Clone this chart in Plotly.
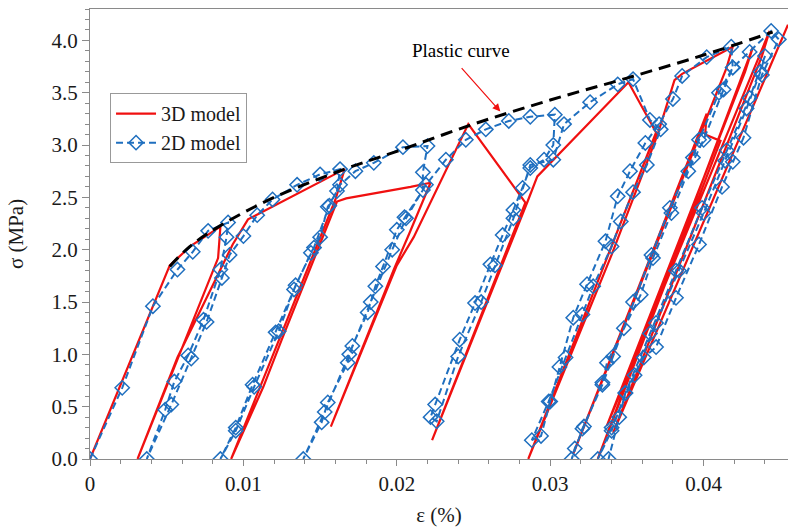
import plotly.graph_objects as go

# ---- Data ----
plastic_x = [0.0052, 0.0065, 0.0085, 0.0120, 0.0166, 0.0200, 0.0250, 0.0300, 0.0350, 0.0400, 0.0445]
plastic_y = [1.84, 2.03, 2.23, 2.50, 2.77, 2.94, 3.20, 3.43, 3.64, 3.86, 4.08]

model3d_x = [0, 0.0052, 0.0066, 0.0085, 0.00835, 0.0057, 0.0031,
             0.0057, 0.0093, 0.0103, 0.0166, 0.0160, 0.0092,
             0.0113, 0.0125, 0.0161, 0.0167, 0.0209, 0.0222,
             0.0208, 0.0198, 0.0157,
             0.0200, 0.0211, 0.02466, 0.02838, 0.0223,
             0.02855, 0.02916, 0.0351, 0.0369, 0.02857,
             0.0340, 0.0370, 0.0381, 0.0386, 0.0419, 0.0415, 0.0315,
             0.0402, 0.0401, 0.0411, 0.0331,
             0.0432, 0.0427, 0.0337,
             0.0443, 0.0438, 0.0341,
             0.0455]
model3d_y = [0, 1.85, 2.04, 2.22, 1.92, 0.95, 0.0,
             0.97, 2.05, 2.29, 2.77, 2.48, 0.0,
             0.69, 1.14, 2.46, 2.49, 2.60, 2.64,
             2.15, 1.81, 0.31,
             1.85, 2.12, 3.20, 2.45, 0.18,
             2.47, 2.70, 3.60, 3.12, 0.0,
             1.95, 3.10, 3.62, 3.68, 3.94, 3.74, 0.05,
             3.30, 3.10, 3.04, 0.0,
             3.93, 3.70, 0.32,
             4.09, 3.85, 0.25,
             4.15]

model2d_x = [0, 0.0021, 0.0041, 0.0057, 0.0067, 0.0077, 0.0090,
             0.0089, 0.0085, 0.0074, 0.0064, 0.0055, 0.0049, 0.0037,
             0.0053, 0.0066, 0.0076, 0.0086, 0.0091, 0.0100, 0.0109, 0.0119, 0.0135, 0.0150, 0.0163,
             0.0161, 0.0155, 0.0150, 0.0144, 0.0133, 0.0121, 0.0106, 0.0095, 0.0085,
             0.0095, 0.0107, 0.0123, 0.0134, 0.0146, 0.0156, 0.0163, 0.0173, 0.0185, 0.0204, 0.0220,
             0.0217, 0.0217, 0.0205, 0.0200, 0.0191, 0.0186, 0.0181, 0.0171, 0.0168, 0.0155, 0.0151, 0.0139,
             0.0153, 0.0169, 0.0183, 0.0197, 0.0206, 0.0219, 0.0232, 0.0245, 0.0258, 0.0273, 0.0287, 0.0303,
             0.0302, 0.0296, 0.0287, 0.0282, 0.0276, 0.0269, 0.0261, 0.0251, 0.0241, 0.0225, 0.0222,
             0.0226, 0.0240, 0.0255, 0.0264, 0.0276, 0.0287, 0.0302, 0.0309, 0.0326, 0.0344, 0.0354,
             0.0365, 0.0372, 0.0363, 0.0354, 0.0346, 0.0340, 0.0328, 0.0321, 0.0310, 0.0299, 0.0288,
             0.0294, 0.0300, 0.0306, 0.0315, 0.0324, 0.0336, 0.0344, 0.0352, 0.0362, 0.0371, 0.0380, 0.0386, 0.0402, 0.0418,
             0.0419, 0.0413, 0.0400, 0.0390, 0.0379, 0.0367, 0.0359, 0.0348, 0.0337, 0.0334, 0.0322, 0.0316, 0.0314,
             0.0321, 0.0334, 0.0341, 0.0354, 0.0366, 0.0378, 0.0393, 0.0397, 0.0410, 0.0419, 0.0430, 0.0444,
             0.0449, 0.0438, 0.0426, 0.0419, 0.0412, 0.0397, 0.0382, 0.0369, 0.0361, 0.0349, 0.0340, 0.0331,
             0.0340, 0.0355, 0.0369, 0.0384, 0.0400, 0.0414, 0.0428, 0.0437, 0.0440,
             0.0430, 0.0415, 0.0399, 0.0382, 0.0365, 0.0349, 0.0345, 0.0338]
model2d_y = [0, 0.68, 1.46, 1.81, 1.98, 2.18, 2.26,
             2.12, 1.81, 1.33, 0.99, 0.74, 0.47, 0.0,
             0.52, 0.96, 1.31, 1.73, 1.95, 2.13, 2.33, 2.48, 2.62, 2.72, 2.77,
             2.56, 2.41, 2.12, 1.97, 1.62, 1.21, 0.71, 0.30, 0.0,
             0.27, 0.69, 1.22, 1.66, 2.02, 2.42, 2.62, 2.75, 2.83, 2.98, 2.99,
             2.74, 2.57, 2.31, 2.19, 1.84, 1.65, 1.40, 1.08, 0.92, 0.54, 0.35, 0.0,
             0.45, 1.00, 1.50, 2.00, 2.30, 2.62, 2.86, 3.05, 3.15, 3.23, 3.27, 3.29,
             3.00, 2.86, 2.78, 2.59, 2.38, 2.14, 1.86, 1.49, 1.14, 0.52, 0.40,
             0.36, 0.98, 1.50, 1.85, 2.30, 2.81, 2.86, 3.20, 3.41, 3.58, 3.63,
             3.24, 3.15, 2.81, 2.55, 2.27, 2.03, 1.65, 1.38, 0.97, 0.55, 0.18,
             0.22, 0.55, 0.88, 1.35, 1.67, 2.08, 2.51, 2.75, 3.02, 3.20, 3.44, 3.66, 3.84, 3.94,
             3.74, 3.53, 3.05, 2.75, 2.35, 1.92, 1.57, 1.25, 0.92, 0.73, 0.31, 0.10, 0.0,
             0.29, 0.71, 0.98, 1.50, 1.95, 2.40, 2.88, 3.05, 3.50, 3.74, 3.89, 4.09,
             4.01, 3.67, 3.07, 2.84, 2.60, 2.05, 1.54, 1.07, 0.97, 0.63, 0.27, 0.0,
             0.30, 0.80, 1.30, 1.80, 2.35, 2.85, 3.35, 3.70, 3.85,
             3.45, 2.95, 2.40, 1.80, 1.20, 0.63, 0.40, 0.0]

x_tickvals = [0, 0.01, 0.02, 0.03, 0.04]
x_ticktext = ["0", "0.01", "0.02", "0.03", "0.04"]
y_tickvals = [0.0, 0.5, 1.0, 1.5, 2.0, 2.5, 3.0, 3.5, 4.0]
y_ticktext = ["0.0", "0.5", "1.0", "1.5", "2.0", "2.5", "3.0", "3.5", "4.0"]

RED = "#f01010"
BLUE = "#1f6fbf"
SERIF = "Liberation Serif"
TXT = "#1a1a1a"

fig = go.Figure()
fig.add_trace(go.Scatter(x=model3d_x, y=model3d_y, mode="lines", name="3D model",
                         line=dict(color=RED, width=2.2)))
fig.add_trace(go.Scatter(x=model2d_x, y=model2d_y, mode="lines+markers", name="2D model",
                         line=dict(color=BLUE, width=2, dash="7px,4px"),
                         marker=dict(symbol="diamond-open", size=11, color=BLUE,
                                     line=dict(width=1.5, color=BLUE))))
fig.add_trace(go.Scatter(x=plastic_x, y=plastic_y, mode="lines", showlegend=False,
                         line=dict(color="black", width=3, dash="12px,7px"),
                         line_shape="spline"))

fig.add_annotation(x=0.0242, y=3.90, text="Plastic curve", showarrow=False,
                   font=dict(family=SERIF, size=19, color="black"), xref="x", yref="y")
fig.add_annotation(x=0.02675, y=3.32, ax=0.02414, ay=3.75, xref="x", yref="y",
                   axref="x", ayref="y", text="", showarrow=True,
                   arrowhead=2, arrowsize=1.3, arrowwidth=1.2, arrowcolor=RED)

fig.update_layout(
    width=790, height=530, margin=dict(l=90, r=2, t=9, b=71),
    plot_bgcolor="white", paper_bgcolor="white",
    font=dict(family=SERIF, size=21, color=TXT),
    xaxis=dict(range=[0, 0.0455], tickmode="array", tickvals=x_tickvals, ticktext=x_ticktext,
               showline=True, linecolor="#8a8a8a", linewidth=1, mirror=True,
               ticks="outside", ticklen=6, tickcolor="#8a8a8a",
               showgrid=False, zeroline=False,
               tickfont=dict(family=SERIF, size=21, color=TXT),
               minor=dict(dtick=0.002, tick0=0, ticks="outside", ticklen=4, tickcolor="#8a8a8a"),
               title=dict(text="ε (%)", font=dict(family=SERIF, size=21, color=TXT), standoff=12)),
    yaxis=dict(range=[0, 4.3], tickmode="array", tickvals=y_tickvals, ticktext=y_ticktext,
               showline=True, linecolor="#8a8a8a", linewidth=1,
               ticks="outside", ticklen=7, tickcolor="#8a8a8a",
               showgrid=False, zeroline=False,
               tickfont=dict(family=SERIF, size=21, color=TXT),
               minor=dict(dtick=0.1, tick0=0, ticks="outside", ticklen=4, tickcolor="#8a8a8a"),
               title=dict(text="σ (MPa)", font=dict(family=SERIF, size=21, color=TXT), standoff=22)),
    legend=dict(x=0.0287, y=0.813, xanchor="left", yanchor="top",
                bordercolor="#999999", borderwidth=1, bgcolor="white", itemwidth=40,
                font=dict(family=SERIF, size=20, color=TXT)),
)

fig.write_html("out.html")
